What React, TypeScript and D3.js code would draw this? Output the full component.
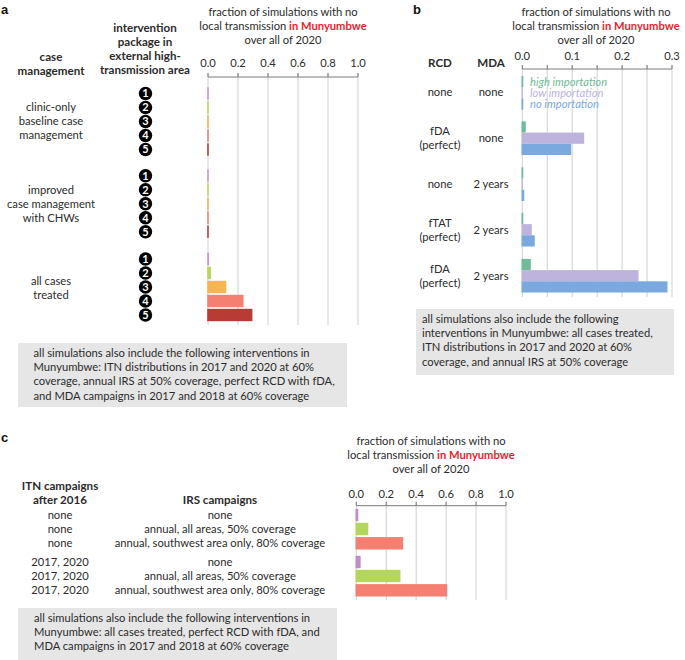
import React from "react";
import * as d3 from "d3";

const FONT = "Lato, 'Open Sans', sans-serif";
const INK = "#2b2b2b";
const GRID = "#cfcfcf";

const ticksA = [0, 0.2, 0.4, 0.6, 0.8, 1.0];
const packages = [1, 2, 3, 4, 5];
const colorsA = ["#cb98cf", "#b9d75f", "#f6b455", "#f57f70", "#b93b36"];
const clinicOnly = [0.005, 0.005, 0.005, 0.005, 0.005];
const improvedCM = [0.005, 0.005, 0.005, 0.005, 0.005];
const allTreated = [0.007, 0.02, 0.122, 0.237, 0.296];

const ticksB = [0, 0.1, 0.2, 0.3];
const gridB = [0, 0.05, 0.1, 0.15, 0.2, 0.25, 0.3];
const importation = ["high importation", "low importation", "no importation"];
const colorsB = ["#70bc98", "#bdb3dc", "#79a9de"];
const highImp = [0.002, 0.007, 0.002, 0.002, 0.017];
const lowImp = [0.001, 0.124, 0.001, 0.019, 0.233];
const noImp = [0.002, 0.098, 0.004, 0.025, 0.291];

const colorsC = ["#c38bc9", "#b5d65c", "#f57f70"];
const itnNone = [0.013, 0.08, 0.313];
const itn2017 = [0.029, 0.295, 0.607];

const T = ({ x, y, c, a = "middle", w = 400, s = 11.2, st, f = INK }: any) => (
  <text x={x} y={y} textAnchor={a} fontWeight={w} fontSize={s} fontStyle={st} fill={f} fontFamily={FONT}>{c}</text>
);

const Label = ({ x, y, c }: any) => (
  <text x={x} y={y} fontWeight={700} fontSize={13} fill="#111" fontFamily="'Liberation Sans', sans-serif">{c}</text>
);

const Head = ({ x, y, c }: any) => <T x={x} y={y} c={c} w={700} s={11.6} />;

const Title = ({ x, y }: { x: number; y: number }) => (
  <g>
    <T x={x} y={y} c="fraction of simulations with no" />
    <text x={x} y={y + 14} textAnchor="middle" fontSize={11.2} fontFamily={FONT} fill={INK}>
      local transmission <tspan fill="#ee1c2e" fontWeight={700}>in Munyumbwe</tspan>
    </text>
    <T x={x} y={y + 28} c="over all of 2020" />
  </g>
);

const Axis = ({ x, y0, y1, ticks, grid, fmt, gap }: any) => (
  <g>
    {grid.map((g: number) => <line key={g} x1={x(g)} x2={x(g)} y1={y0 - 4} y2={y1} stroke={GRID} strokeWidth={1} />)}
    <line x1={x.range()[0]} x2={x.range()[1]} y1={y0} y2={y0} stroke="#7a7a7a" strokeWidth={1} />
    {grid.map((g: number) => <line key={"t" + g} x1={x(g)} x2={x(g)} y1={y0 - 4} y2={y0} stroke="#7a7a7a" strokeWidth={1} />)}
    {ticks.map((t: number) => <T key={"l" + t} x={x(t)} y={y0 - gap} c={fmt(t)} />)}
  </g>
);

const Bars = ({ x, values, ys, h, colors }: any) => (
  <g>
    {values.map((v: number, i: number) => (
      <rect key={i} x={x(0) - 0.8} y={ys[i] - h / 2} width={x(v) - x(0) + 0.8} height={h} fill={colors[i]} />
    ))}
  </g>
);

const Box = ({ x, y, w, h, lines, tx, ty }: any) => (
  <g>
    <rect x={x} y={y} width={w} height={h} fill="#e6e6e6" />
    {lines.map((l: string, i: number) => <T key={i} x={tx} y={ty + i * 14.2} a="start" c={l} />)}
  </g>
);

export default function App() {
  const xA = d3.scaleLinear().domain([0, 1]).range([208, 358]);
  const xB = d3.scaleLinear().domain([0, 0.3]).range([522.3, 672]);
  const xC = d3.scaleLinear().domain([0, 1]).range([356.3, 506]);
  const f1 = d3.format(".1f");

  const groupA = [
    { vals: clinicOnly, top: 93.5 },
    { vals: improvedCM, top: 175.7 },
    { vals: allTreated, top: 259 },
  ];
  const groupB = [81.7, 127, 173, 218.5, 264.5];
  const byGroupB = groupB.map((_, i) => [highImp[i], lowImp[i], noImp[i]]);

  return (
    <svg width={685} height={660} style={{ position: "absolute", left: 0, top: 0 }}>
      <Label x={1} y={14} c="a" />
      <Label x={413} y={14} c="b" />
      <Label x={1} y={442} c="c" />

      {/* panel a */}
      <Title x={283} y={16} />
      {["intervention", "package in", "external high-", "transmission area"].map((l, i) => (
        <Head key={l} x={145} y={31.5 + i * 14.2} c={l} />
      ))}
      <Head x={51} y={60.5} c="case" />
      <Head x={51} y={74.7} c="management" />
      {["clinic-only", "baseline case", "management"].map((l, i) => <T key={l} x={51} y={111 + i * 14.2} c={l} />)}
      {["improved", "case management", "with CHWs"].map((l, i) => <T key={l} x={51} y={194 + i * 14.2} c={l} />)}
      {["all cases", "treated"].map((l, i) => <T key={l} x={51} y={285 + i * 14} c={l} />)}
      <Axis x={xA} y0={77} y1={325} ticks={ticksA} grid={ticksA} fmt={f1} gap={10} />
      {groupA.map((g, gi) => {
        const ys = g.vals.map((_, i) => g.top + i * 14);
        return (
          <g key={gi}>
            <Bars x={xA} values={g.vals} ys={ys} h={12.4} colors={colorsA} />
            {packages.map((p, i) => (
              <g key={p}>
                <circle cx={145.5} cy={ys[i]} r={6.7} fill="#000" />
                <text x={145.5} y={ys[i] + 3.8} textAnchor="middle" fontSize={11} fontWeight={700} fill="#fff" fontFamily={FONT}>{p}</text>
              </g>
            ))}
          </g>
        );
      })}
      <Box x={18} y={343} w={329} h={64} tx={33.5} ty={357}
        lines={[
          "all simulations also include the following interventions in",
          "Munyumbwe: ITN distributions in 2017 and 2020 at 60%",
          "coverage, annual IRS at 50% coverage, perfect RCD with fDA,",
          "and MDA campaigns in 2017 and 2018 at 60% coverage",
        ]} />

      {/* panel b */}
      <Title x={596} y={16} />
      <Head x={440} y={67} c="RCD" />
      <Head x={491} y={67} c="MDA" />
      <T x={440} y={96} c="none" />
      <T x={491} y={96} c="none" />
      <T x={440} y={135} c="fDA" />
      <T x={440} y={149} c="(perfect)" />
      <T x={491} y={142} c="none" />
      <T x={440} y={188} c="none" />
      <T x={491} y={188} c="2 years" />
      <T x={440} y={227} c="fTAT" />
      <T x={440} y={241} c="(perfect)" />
      <T x={491} y={234} c="2 years" />
      <T x={440} y={273} c="fDA" />
      <T x={440} y={287} c="(perfect)" />
      <T x={491} y={280} c="2 years" />
      <Axis x={xB} y0={69} y1={297} ticks={ticksB} grid={gridB} fmt={f1} gap={9} />
      {byGroupB.map((vals, gi) => (
        <Bars key={gi} x={xB} values={vals} ys={vals.map((_, i) => groupB[gi] + i * 11.2)} h={11.2} colors={colorsB} />
      ))}
      {importation.map((l, i) => (
        <T key={l} x={530} y={85.5 + i * 11.2} a="start" st="italic" f={colorsB[i]} c={l} />
      ))}
      <Box x={416} y={309} w={258} h={66} tx={422} ty={323}
        lines={[
          "all simulations also include the following",
          "interventions in Munyumbwe: all cases treated,",
          "ITN distributions in 2017 and 2020 at 60%",
          "coverage, and annual IRS at 50% coverage",
        ]} />

      {/* panel c */}
      <Title x={431} y={445} />
      <Head x={60} y={490} c="ITN campaigns" />
      <Head x={60} y={504} c="after 2016" />
      <Head x={220} y={504} c="IRS campaigns" />
      {["none", "none", "none"].map((l, i) => <T key={i} x={60} y={519 + i * 14.2} c={l} />)}
      {["2017, 2020", "2017, 2020", "2017, 2020"].map((l, i) => <T key={i} x={60} y={566 + i * 14.2} c={l} />)}
      {["none", "annual, all areas, 50% coverage", "annual, southwest area only, 80% coverage"].map((l, i) => (
        <g key={l}>
          <T x={220} y={519 + i * 14.2} c={l} />
          <T x={220} y={566 + i * 14.2} c={l} />
        </g>
      ))}
      <Axis x={xC} y0={505.7} y1={600} ticks={ticksA} grid={ticksA} fmt={f1} gap={8} />
      <Bars x={xC} values={itnNone} ys={[515, 529, 543.3]} h={12.4} colors={colorsC} />
      <Bars x={xC} values={itn2017} ys={[562, 576, 590.3]} h={12.4} colors={colorsC} />
      <Box x={18} y={608} w={319} h={52} tx={34} ty={622}
        lines={[
          "all simulations also include the following interventions in",
          "Munyumbwe: all cases treated, perfect RCD with fDA, and",
          "MDA campaigns in 2017 and 2018 at 60% coverage",
        ]} />
    </svg>
  );
}
